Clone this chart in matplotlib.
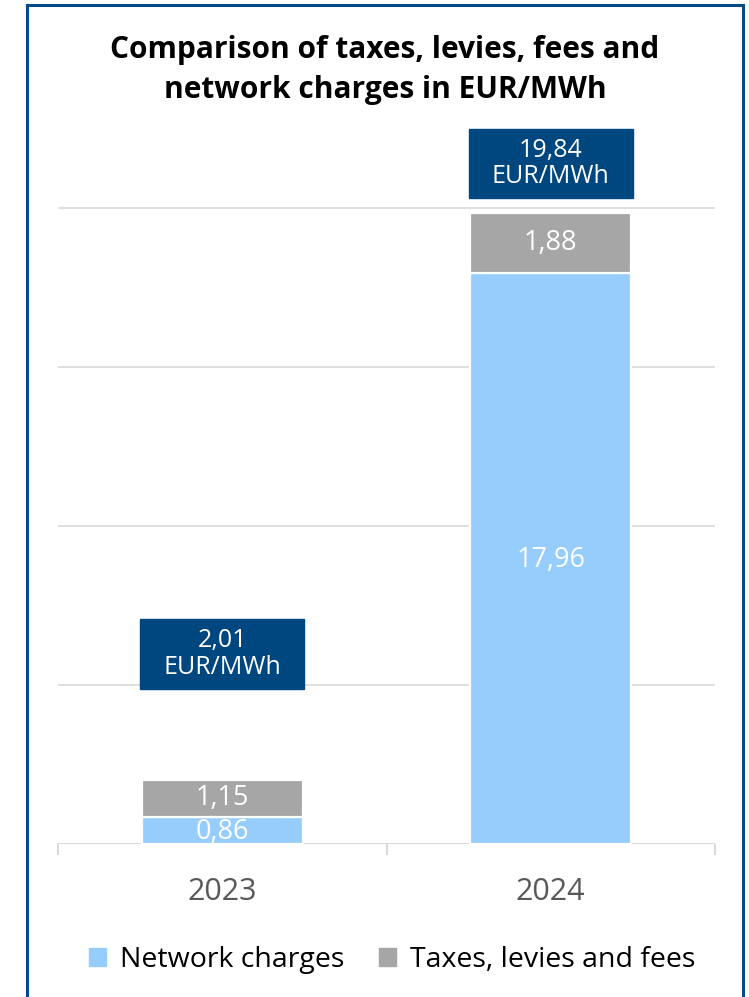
"""
Stacked bars: network charges + taxes/levies/fees, 2023 vs 2024 (EUR/MWh)
"""
import matplotlib; matplotlib.use("Agg")
import matplotlib.pyplot as plt
from matplotlib.patches import Rectangle, Patch

plt.rcParams["font.family"] = ["Open Sans", "DejaVu Sans"]

years    = ["2023", "2024"]
network  = [0.86, 17.96]
taxes    = [1.15, 1.88]
totals   = [2.01, 19.84]
labels_y = [5.97, 21.4]          # where the total boxes sit (centre)

C_NET, C_TAX, C_BOX = "#97CDFD", "#A6A6A6", "#00467F"
W, H = 749, 997
fig = plt.figure(figsize=(W/100, H/100), dpi=100)

# axes placed in pixel terms of the reference
ax = fig.add_axes([58/W, (H-844)/H, (715-58)/W, 23*31.8/H])
ax.set_xlim(-0.5, 1.5); ax.set_ylim(0, 23)

x = range(len(years)); bw = 0.49
ax.bar(x, network, bw, color=C_NET, edgecolor="white", lw=1.6, zorder=3)
ax.bar(x, taxes, bw, bottom=network, color=C_TAX, edgecolor="white", lw=1.6, zorder=3)

for i in x:
    ax.text(i, network[i]/2 - 0.05, f"{network[i]:.2f}".replace(".", ","), ha="center", va="center",
            color="white", fontsize=19.5, zorder=4)
    ax.text(i, network[i] + taxes[i]/2, f"{taxes[i]:.2f}".replace(".", ","), ha="center",
            va="center", color="white", fontsize=19.5, zorder=4)
    # total box
    bh = 2.2
    ax.add_patch(Rectangle((i - 0.25, labels_y[i] - bh/2), 0.5, bh, color=C_BOX, zorder=4, clip_on=False))
    ax.text(i, labels_y[i], f"{totals[i]:.2f}".replace(".", ",") + "\nEUR/MWh", ha="center",
            va="center", color="white", fontsize=18, linespacing=1.1, zorder=5)

# grid + axis
for s in ax.spines.values(): s.set_visible(False)
ax.set_yticks([5, 10, 15, 20]); ax.tick_params(axis="y", length=0, labelleft=False)
ax.grid(axis="y", color="#D9D9D9", lw=1.2, zorder=0)
ax.axhline(0, color="#D9D9D9", lw=1.5, zorder=2)
ax.set_xticks([-0.5, 0.5, 1.5], minor=True)
ax.tick_params(axis="x", which="minor", length=8, width=1.5, color="#D9D9D9")
ax.set_xticks(list(x)); ax.set_xticklabels(years, fontsize=22, color="#595959")
ax.tick_params(axis="x", which="major", length=0, pad=24)

fig.text(385/W, 1 - 70/H, "Comparison of taxes, levies, fees and\nnetwork charges in EUR/MWh",
         ha="center", va="center", fontsize=21.5, fontweight="bold", linespacing=1.45)

handles = [Patch(color=C_NET, label="Network charges"), Patch(color=C_TAX, label="Taxes, levies and fees")]
fig.legend(handles=handles, loc="center", bbox_to_anchor=(392/W, (H-960)/H), ncol=2, frameon=False,
           fontsize=20.5, handlelength=0.6, handleheight=0.6, handletextpad=0.5, columnspacing=1.2)

# dark blue frame
fig.add_artist(Rectangle((27/W, -0.05), (743-27)/W, 1.05 - 5/H, transform=fig.transFigure,
                         fill=False, ec="#004A8A", lw=2.2))

fig.savefig("out.png", dpi=100)
